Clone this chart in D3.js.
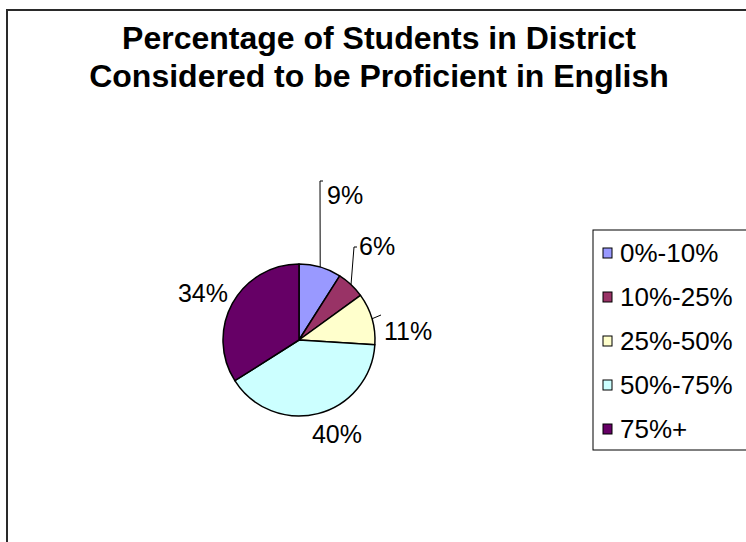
<!DOCTYPE html>
<html>
<head>
<meta charset="utf-8">
<script src="https://cdn.jsdelivr.net/npm/d3@7"></script>
<style>
  html, body { margin: 0; padding: 0; background: #fff; }
  svg { display: block; }
  text { font-family: "Liberation Sans", Arial, sans-serif; fill: #000; }
</style>
</head>
<body>
<svg id="chart" width="746" height="542"></svg>
<script>
// Share of students by English-proficiency band
const categories = ["0%-10%", "10%-25%", "25%-50%", "50%-75%", "75%+"];
const shares = [9, 6, 11, 40, 34];
const colors = ["#9999FF", "#993366", "#FFFFCC", "#CCFFFF", "#660066"];
const titleLines = ["Percentage of Students in District", "Considered to be Proficient in English"];

const W = 746, H = 542;
const cx = 299, cy = 340, R = 76;

const svg = d3.select("#chart");

// chart-area frame (runs off the right and bottom edges)
svg.append("rect")
  .attr("x", 7).attr("y", 10)
  .attr("width", W + 20).attr("height", H + 20)
  .attr("fill", "#fff")
  .attr("stroke", "#2a2a2a").attr("stroke-width", 2);

// title
svg.append("g").selectAll("text")
  .data(titleLines)
  .join("text")
  .attr("x", 379)
  .attr("y", (d, i) => 49 + i * 38)
  .attr("text-anchor", "middle")
  .attr("font-size", 32)
  .attr("font-weight", "bold")
  .text(d => d);

// pie
const pieData = d3.pie().sort(null).value(d => d)(shares);
const arc = d3.arc().innerRadius(0).outerRadius(R);
const g = svg.append("g").attr("transform", `translate(${cx},${cy})`);

g.selectAll("path")
  .data(pieData)
  .join("path")
  .attr("d", arc)
  .attr("fill", (d, i) => colors[i])
  .attr("stroke", "#000")
  .attr("stroke-width", 1.5)
  .attr("stroke-linejoin", "round");

// label placement (offsets relative to the pie centre) and leader elbows
const labelLayout = [
  { x: 28,  y: -136, anchor: "start", leader: [[24, -159], [21, -159]] },
  { x: 60,  y: -85,  anchor: "start", leader: [[58, -93], [55, -93]] },
  { x: 85,  y: 0,    anchor: "start", leader: [[82, -25]] },
  { x: 38,  y: 103,  anchor: "middle", leader: null },
  { x: -71, y: -38,  anchor: "end", leader: null }
];

const edgePoint = d => {
  const a = (d.startAngle + d.endAngle) / 2;
  return [R * Math.sin(a), -R * Math.cos(a)];
};

g.selectAll("polyline.leader")
  .data(pieData.filter((d, i) => labelLayout[i].leader))
  .join("polyline")
  .attr("class", "leader")
  .attr("points", d => {
    const pts = labelLayout[d.index].leader.concat([edgePoint(d)]);
    return pts.map(p => p.join(",")).join(" ");
  })
  .attr("fill", "none")
  .attr("stroke", "#000")
  .attr("stroke-width", 1);

g.selectAll("text.pct")
  .data(pieData)
  .join("text")
  .attr("class", "pct")
  .attr("x", d => labelLayout[d.index].x)
  .attr("y", d => labelLayout[d.index].y)
  .attr("text-anchor", d => labelLayout[d.index].anchor)
  .attr("font-size", 25)
  .text(d => d3.format(".0f")(d.data) + "%");

// legend
const legendX = 593, legendY = 230, rowH = 44;
const legend = svg.append("g");
legend.append("rect")
  .attr("x", legendX).attr("y", legendY)
  .attr("width", 200).attr("height", 220)
  .attr("fill", "#fff")
  .attr("stroke", "#000").attr("stroke-width", 1);

const rows = legend.selectAll("g.row")
  .data(categories)
  .join("g")
  .attr("class", "row")
  .attr("transform", (d, i) => `translate(${legendX + 10},${legendY + 23 + i * rowH})`);

rows.append("rect")
  .attr("x", 0).attr("y", -5)
  .attr("width", 9).attr("height", 10)
  .attr("fill", (d, i) => colors[i])
  .attr("stroke", "#000").attr("stroke-width", 1);

rows.append("text")
  .attr("x", 17)
  .attr("y", 9)
  .attr("font-size", 26)
  .text(d => d);
</script>
</body>
</html>
